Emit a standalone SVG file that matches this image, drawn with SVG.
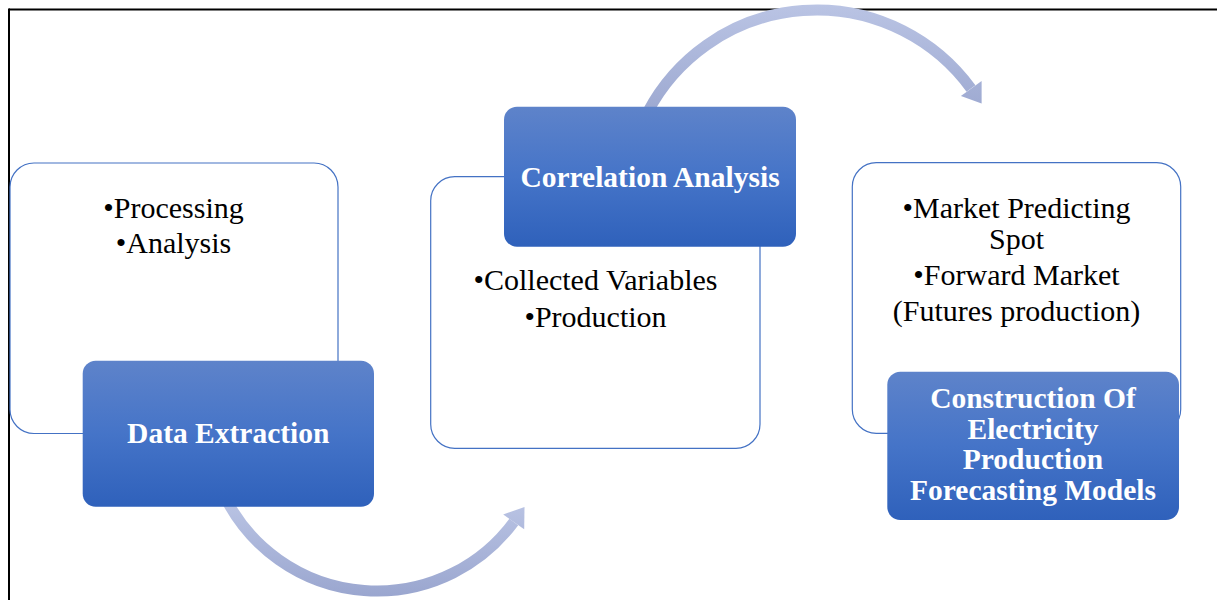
<svg xmlns="http://www.w3.org/2000/svg" width="1217" height="600" viewBox="0 0 1217 600">
  <defs>
    <linearGradient id="blueFill" x1="0" y1="0" x2="0" y2="1">
      <stop offset="0" stop-color="#5e83ca"/>
      <stop offset="0.5" stop-color="#4574c8"/>
      <stop offset="1" stop-color="#2f61bb"/>
    </linearGradient>
    <linearGradient id="arcTop" gradientUnits="userSpaceOnUse" x1="0" y1="4" x2="0" y2="112">
      <stop offset="0" stop-color="#bac4e4"/>
      <stop offset="1" stop-color="#9da9d1"/>
    </linearGradient>
    <linearGradient id="arcBottom" gradientUnits="userSpaceOnUse" x1="0" y1="500" x2="0" y2="597">
      <stop offset="0" stop-color="#bac4e4"/>
      <stop offset="1" stop-color="#9aa6cf"/>
    </linearGradient>
    <style>
      .frame { stroke: #000; stroke-width: 2; fill: none; }
      .panel { fill: #ffffff; stroke: #4472c4; stroke-width: 1.2; }
      .title { fill: url(#blueFill); }
      .ttl { font-family: "Liberation Serif", "Times New Roman", serif; font-size: 29.5px; font-weight: bold; fill: #ffffff; text-anchor: middle; }
      .txt { font-family: "Liberation Serif", "Times New Roman", serif; font-size: 30px; fill: #000000; text-anchor: middle; }
    </style>
  </defs>

  <rect width="1217" height="600" fill="#ffffff"/>

  <g id="frame">
    <line class="frame" x1="9" y1="9.5" x2="1217" y2="9.5"/>
    <line class="frame" x1="9" y1="8.5" x2="9" y2="600"/>
  </g>

  <g id="connectors">
    <path d="M 647.7 112 A 191 191 0 0 1 971 88.5" fill="none" stroke="url(#arcTop)" stroke-width="11"/>
    <polygon points="960.9,95.9 981.6,81.1 981.6,103.5" fill="url(#arcTop)"/>
    <path d="M 226.5 500 A 170 170 0 0 0 513.8 521.9" fill="none" stroke="url(#arcBottom)" stroke-width="11"/>
    <polygon points="503.2,514.5 524.5,507 524.2,529.3" fill="url(#arcBottom)"/>
  </g>

  <g id="node-data-extraction">
    <rect class="panel" x="10" y="163" width="328" height="270.5" rx="24"/>
    <text class="txt" x="173.5" y="218.3">•Processing</text>
    <text class="txt" x="173.5" y="253.3">•Analysis</text>
    <rect class="title" x="82.7" y="360.7" width="291.3" height="146" rx="13"/>
    <text class="ttl" x="228.3" y="442.7">Data Extraction</text>
  </g>

  <g id="node-correlation-analysis">
    <rect class="panel" x="430.7" y="176.7" width="329.3" height="271.6" rx="24"/>
    <text class="txt" x="595.5" y="290">•Collected Variables</text>
    <text class="txt" x="595.5" y="326.5">•Production</text>
    <rect class="title" x="504" y="106.7" width="292" height="140" rx="13"/>
    <text class="ttl" x="650" y="186.7">Correlation Analysis</text>
  </g>

  <g id="node-forecasting-models">
    <rect class="panel" x="852.3" y="162.7" width="328.4" height="270.6" rx="24"/>
    <text class="txt" x="1016.5" y="218.3">•Market Predicting</text>
    <text class="txt" x="1016.5" y="249">Spot</text>
    <text class="txt" x="1016.5" y="285">•Forward Market</text>
    <text class="txt" x="1016.5" y="321">(Futures production)</text>
    <rect class="title" x="887.3" y="371.7" width="291.7" height="148.3" rx="13"/>
    <text class="ttl" x="1033" y="408.3">Construction Of</text>
    <text class="ttl" x="1033" y="438.7">Electricity</text>
    <text class="ttl" x="1033" y="469.3">Production</text>
    <text class="ttl" x="1033" y="499.7">Forecasting Models</text>
  </g>
</svg>
